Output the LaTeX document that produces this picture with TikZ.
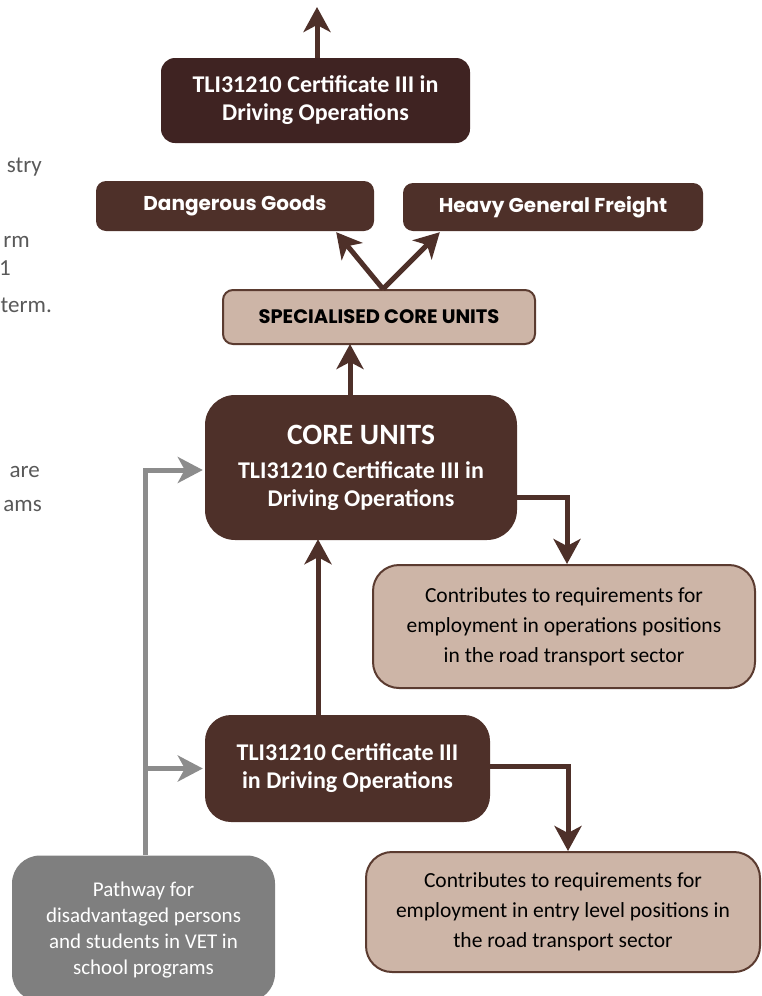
\documentclass[tikz,border=0pt]{standalone}
\usepackage{fontspec}
\setmainfont{Carlito}
\newfontfamily\gothic{Poppins}
\usetikzlibrary{arrows.meta,calc}
\definecolor{darkbox}{HTML}{3F2322}
\definecolor{brownbox}{HTML}{4E3029}
\definecolor{beige}{HTML}{CDB5A7}
\definecolor{beigeline}{HTML}{5B3B30}
\definecolor{greybox}{HTML}{7F7F7F}
\definecolor{greyline}{HTML}{8C8C8C}
\definecolor{fragtext}{HTML}{595959}
\tikzset{
  box/.style={rounded corners=14pt, inner sep=0pt, align=center},
  darkb/.style={box, fill=darkbox, text=white, font=\fontsize{24}{28}\selectfont\bfseries},
  brownb/.style={box, fill=brownbox, text=white},
  beigeb/.style={box, fill=beige, draw=beigeline, line width=2pt, text=black},
  greyb/.style={box, rounded corners=28pt, fill=greybox, text=white, font=\fontsize{21}{26}\selectfont},
  arr/.style={draw=brownbox, line width=5pt, -{Stealth[length=25pt,width=27pt,inset=7pt]}},
  garr/.style={draw=greyline, line width=5pt, -{Stealth[length=25pt,width=26pt,inset=7pt]}},
  frag/.style={anchor=base east, text=fragtext, font=\fontsize{23}{24}\selectfont, inner sep=0pt},
}
\begin{document}
\begin{tikzpicture}[x=1pt,y=-1pt]
\useasboundingbox (0,0) rectangle (761,996);
% left text fragments (cut off in the reference)
\node[frag] (f1) at (42,172) {stry};
\node[frag] (f2) at (30,247) {rm};
\node[frag] (f3) at (11,275) {1};
\node[frag] (f4) at (52,312) {term.};
\node[frag] (f5) at (40,477) {are};
\node[frag] (f6) at (42,511) {ams};
% nodes
\node[darkb, minimum width=309pt, minimum height=85pt] (top) at (315.5,100.5) {TLI31210 Certificate III in\\Driving Operations};
\node[brownb, rounded corners=10pt, minimum width=278pt, minimum height=50pt, font=\gothic\fontsize{20}{22}\selectfont\bfseries] (dg) at (235,206) {Dangerous Goods};
\node[brownb, rounded corners=10pt, minimum width=300pt, minimum height=48pt, font=\gothic\fontsize{20}{22}\selectfont\bfseries] (hgf) at (553,207) {Heavy General Freight};
\node[beigeb, rounded corners=10pt, minimum width=312pt, minimum height=54pt, font=\gothic\fontsize{19.5}{22}\selectfont\bfseries] (spec) at (379,317) {SPECIALISED CORE UNITS};
\node[brownb, rounded corners=30pt, minimum width=312pt, minimum height=145pt, font=\fontsize{24}{28}\selectfont\bfseries] (core) at (361,467.5) {{\fontsize{29.5}{30}\selectfont CORE UNITS}\\[6pt]TLI31210 Certificate III in\\Driving Operations};
\node[beigeb, rounded corners=26pt, minimum width=382pt, minimum height=123pt, font=\fontsize{21.5}{30}\selectfont] (c1) at (564,626.5) {Contributes to requirements for\\employment in operations positions\\in the road transport sector};
\node[brownb, rounded corners=26pt, minimum width=285pt, minimum height=107pt, font=\fontsize{24}{28}\selectfont\bfseries] (cert) at (347.5,768.5) {TLI31210 Certificate III\\in Driving Operations};
\node[beigeb, rounded corners=26pt, minimum width=394pt, minimum height=120pt, font=\fontsize{21.5}{30}\selectfont] (c2) at (563,912) {Contributes to requirements for\\employment in entry level positions in\\the road transport sector};
\node[greyb, minimum width=263pt, minimum height=146pt, text depth=0pt] (path) at (143.5,928.5) {Pathway for\\disadvantaged persons\\and students in VET in\\school programs};
% connectors
\coordinate (topend) at (317,7);
\draw[arr] ([xshift=1.5pt]top.north) -- (topend);
\draw[arr] ([xshift=4pt]spec.north) -- ($(dg.south east)+(-38,1)$);
\draw[arr] ([xshift=4pt]spec.north) -- ($(hgf.south west)+(37,1)$);
\draw[arr] ([xshift=-11pt]core.north) -- ([xshift=-29pt,yshift=1pt]spec.south);
\draw[arr] ([yshift=-29.5pt]core.east) -| ([xshift=3pt]c1.north);
\draw[arr] ([xshift=-29.5pt]cert.north) -- ([xshift=-43pt,yshift=1pt]core.south);
\draw[arr] ([yshift=2pt]cert.east) -| ([xshift=5pt]c2.north);
\coordinate (branch) at ([xshift=1.5pt]path.north |- cert.west);
\draw[garr, shorten >=2pt] ([xshift=1.5pt]path.north) |- ([yshift=-2.5pt]core.west);
\draw[garr, shorten >=2pt] (branch) -- (cert.west);
\end{tikzpicture}
\end{document}
